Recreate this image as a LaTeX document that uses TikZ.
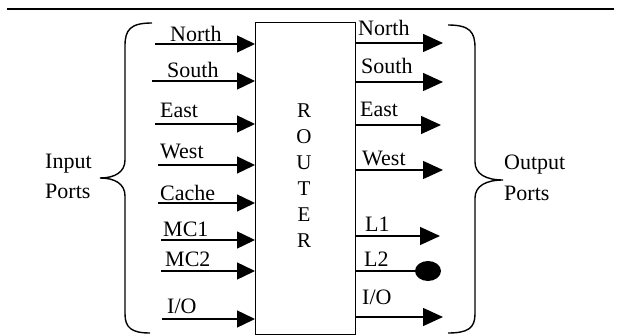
\documentclass[tikz,border=0pt]{standalone}
\usepackage{fontspec}
\setmainfont{Liberation Serif}
\usetikzlibrary{arrows.meta,shapes.geometric}
\begin{document}
\begin{tikzpicture}[x=1pt,y=-1pt,
  every node/.style={font=\fontsize{22}{26}\selectfont},
  lbl/.style={anchor=base west,inner sep=0pt},
  inarrow/.style={line width=1.4pt,-{Triangle[length=18pt,width=17pt]}},
  outarrow/.style={line width=1.4pt,-{Triangle[length=20pt,width=18pt]}},
  brace/.style={line width=1.4pt},
  box/.style={draw,line width=1.4pt,inner sep=0pt,anchor=north west,minimum width=100pt,minimum height=312pt}]
\useasboundingbox (0,0) rectangle (618,336);
% top rule
\coordinate (ruleL) at (7,9);
\coordinate (ruleR) at (614,9);
\draw[line width=2pt] (ruleL) -- (ruleR);
% router
\node[box] (router) at (255,22) {};
\node[align=center,inner sep=0pt,font=\fontsize{21}{26}\selectfont] (rtext) at (304,176) {R\\O\\U\\T\\E\\R};
% input arrows
\foreach \n/\x/\y in {inN/155/44, inS/152/81, inE/155/124, inW/158/165, inC/158/203, inM1/161/240, inM2/161/271, inIO/162/319}{
  \coordinate (\n) at (\x,\y);
  \draw[inarrow] (\n) -- (\n -| router.west);
}
\node[lbl] (lN) at (170,42) {North};
\node[lbl] (lS) at (167,78) {South};
\node[lbl] (lE) at (160,118) {East};
\node[lbl] (lW) at (160,159) {West};
\node[lbl] (lC) at (160,201) {Cache};
\node[lbl] (lM1) at (163,237) {MC1};
\node[lbl] (lM2) at (165,267) {MC2};
\node[lbl] (lIO) at (167,314) {I/O};
% output arrows
\foreach \n/\x/\y in {oN/443/43, oS/443/82, oE/441/125, oW/443/170, oL1/440/236, oIO/443/317}{
  \coordinate (\n) at (\x,\y);
  \draw[outarrow] (\n -| router.east) -- (\n);
}
\node[fill=black,ellipse,minimum width=26pt,minimum height=20pt,inner sep=0pt,draw=none] (dot) at (428,271) {};
\draw[line width=1.4pt] (dot.west -| router.east) -- (dot.west);
\node[lbl] (rN) at (358,36) {North};
\node[lbl] (rS) at (361,74) {South};
\node[lbl] (rE) at (360,117) {East};
\node[lbl] (rW) at (362,166) {West};
\node[lbl] (rL1) at (365,232) {L1};
\node[lbl] (rL2) at (364,267) {L2};
\node[lbl] (rIO) at (362,305) {I/O};
% braces
\draw[brace] (152,23) .. controls (130,23) and (125,30) .. (125,46) -- (125,160)
  .. controls (125,172) and (115,178) .. (100,178)
  .. controls (115,178) and (125,184) .. (125,196) -- (125,314)
  .. controls (125,328) and (132,333) .. (150,333);
\draw[brace] (448,25) .. controls (470,25) and (475,32) .. (475,48) -- (475,162)
  .. controls (475,174) and (486,180) .. (503,180)
  .. controls (486,180) and (475,186) .. (475,198) -- (475,314)
  .. controls (475,328) and (468,333) .. (448,333);
\node[lbl] (inp1) at (45,169) {Input};
\node[lbl] (inp2) at (45,199) {Ports};
\node[lbl] (out1) at (504,170) {Output};
\node[lbl] (out2) at (504,201) {Ports};
\end{tikzpicture}
\end{document}
